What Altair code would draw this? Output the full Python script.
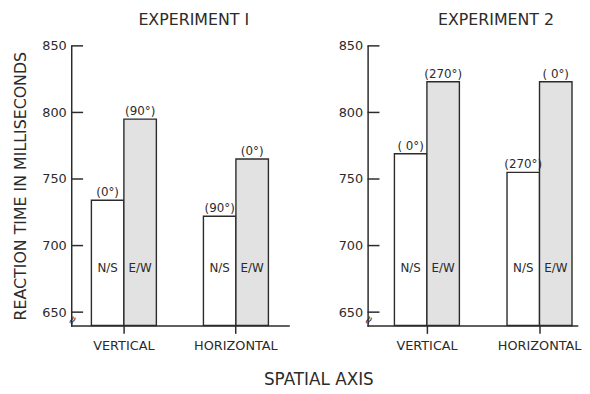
import altair as alt
import pandas as pd

groups = ["VERTICAL", "VERTICAL", "HORIZONTAL", "HORIZONTAL"]
dirs = ["N/S", "E/W", "N/S", "E/W"]
exp1_values = [734, 795, 722, 765]
exp1_angles = ["(0°)", "(90°)", "(90°)", "(0°)"]
exp2_values = [769, 823, 755, 823]
exp2_angles = ["( 0°)", "(270°)", "(270°)", "( 0°)"]
y_ticks = [650, 700, 750, 800, 850]
y_min, y_max = 640, 850
label_level = 683

FONT = "DejaVu Sans"
INK = "#2b2b2b"
FILL_EW = "#e2e2e2"


def panel(values, angles, title, width, p_outer, align, dx, show_title):
    df = pd.DataFrame({"group": groups, "dir": dirs, "value": values, "angle": angles})
    xenc = alt.X(
        "group:N",
        sort=["VERTICAL", "HORIZONTAL"],
        scale=alt.Scale(paddingInner=0.42, paddingOuter=p_outer, align=align),
        axis=alt.Axis(
            title=None, labelAngle=0, tickSize=8, tickColor=INK, domainColor=INK,
            labelPadding=6, labelFontSize=13, labelColor=INK, labelFont=FONT,
            domainWidth=1.5, tickWidth=1.5,
        ),
    )
    xoff = alt.XOffset("dir:N", sort=["N/S", "E/W"], scale=alt.Scale(paddingInner=0, paddingOuter=0))
    yscale = alt.Scale(domain=[y_min, y_max], nice=False, zero=False)
    yaxis = alt.Axis(
        values=y_ticks, ticks=False, labelPadding=5, labelFontSize=13, labelColor=INK,
        labelFont=FONT, domainColor=INK, domainWidth=1.5, grid=False,
        title="REACTION TIME IN MILLISECONDS" if show_title else None,
        titleFontSize=16, titleFont=FONT, titleColor=INK, titleFontWeight="normal",
        titlePadding=13,
    )
    base = alt.Chart(df)
    bars = base.mark_bar(stroke=INK, strokeWidth=1.4).encode(
        x=xenc, xOffset=xoff,
        y=alt.Y("value:Q", scale=yscale, axis=yaxis),
        y2=alt.datum(y_min),
        fill=alt.Fill("dir:N", scale=alt.Scale(domain=["N/S", "E/W"], range=["white", FILL_EW]), legend=None),
    )
    top_labels = base.mark_text(dy=-8, fontSize=12, font=FONT, color=INK).encode(
        x=xenc, xOffset=xoff, y=alt.Y("value:Q", scale=yscale), text="angle:N"
    )
    dir_labels = base.mark_text(fontSize=12, font=FONT, color=INK).encode(
        x=xenc, xOffset=xoff, y=alt.datum(label_level), text="dir:N"
    )
    tick_df = pd.DataFrame({"t": y_ticks})
    ticks = alt.Chart(tick_df).mark_rule(color=INK, strokeWidth=1.5).encode(
        y=alt.Y("t:Q", scale=yscale), x=alt.value(0), x2=alt.value(12)
    )
    brk = alt.Chart(pd.DataFrame({"t": [644]})).mark_text(
        text="≈", fontSize=12, angle=300, color=INK, font=FONT
    ).encode(y=alt.Y("t:Q", scale=yscale), x=alt.value(1))
    return alt.layer(bars, top_labels, dir_labels, ticks, brk).properties(
        width=width, height=283,
        title=alt.TitleParams(title, fontSize=16, font=FONT, color=INK, fontWeight="normal",
                              dx=dx, offset=12),
    )


left = panel(exp1_values, exp1_angles, "EXPERIMENT I", 220, 0.18, 0.5, 14, True)
right = panel(exp2_values, exp2_angles, "EXPERIMENT 2", 212, 0.14, 0.85, 24, False)

chart = alt.hconcat(left, right, spacing=50).properties(
    padding={"left": 5, "top": 2, "right": 0, "bottom": 0},
    title=alt.TitleParams("SPATIAL AXIS", orient="bottom", anchor="middle", fontSize=17,
                          font=FONT, color=INK, fontWeight="normal", offset=20, dx=22),
).configure_view(stroke=None).configure_axis(domainCap="square")

chart.save("out.html", embed_options={"renderer": "svg", "actions": False})
